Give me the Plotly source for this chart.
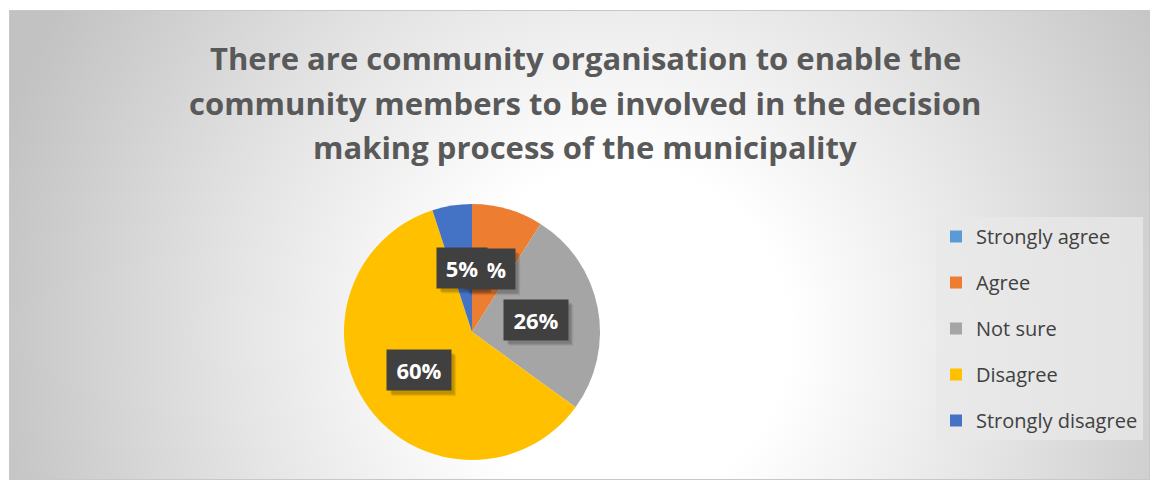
import base64
import math
import plotly.graph_objects as go

# Survey responses (percent of respondents)
categories = ["Strongly agree", "Agree", "Not sure", "Disagree", "Strongly disagree"]
percentages = [0, 9, 26, 60, 5]
colors = ["#5B9BD5", "#ED7D31", "#A5A5A5", "#FFC000", "#4472C4"]

title_lines = [
    "There are community organisation to enable the",
    "community members to be involved in the decision",
    "making process of the municipality",
]

W, H = 1154, 483

# chart frame (pixels) and pie geometry (pixels)
frame_x0, frame_y0, frame_x1, frame_y1 = 9, 10, 1150, 480
pie_cx, pie_cy, pie_r = 472, 332, 128

# radial-gradient backdrop as an inline SVG
fw, fh = frame_x1 - frame_x0, frame_y1 - frame_y0
svg = f"""<svg xmlns='http://www.w3.org/2000/svg' width='{fw}' height='{fh}' viewBox='0 0 {fw} {fh}'>
<defs><radialGradient id='g' gradientUnits='userSpaceOnUse' cx='{620 - frame_x0}' cy='{335 - frame_y0}' r='650'>
<stop offset='0' stop-color='#ffffff'/><stop offset='0.26' stop-color='#ffffff'/>
<stop offset='0.6' stop-color='#e4e4e4'/><stop offset='1' stop-color='#c2c2c2'/>
</radialGradient></defs>
<rect x='0' y='0' width='{fw}' height='{fh}' fill='url(#g)'/>
<rect x='0.5' y='0.5' width='{fw - 1}' height='{fh - 1}' fill='none' stroke='#c8c8c8' stroke-width='1'/>
</svg>"""
bg_src = "data:image/svg+xml;base64," + base64.b64encode(svg.encode()).decode()


def px(x):
    return x / W


def py(y):
    return 1 - y / H


fig = go.Figure()

fig.add_trace(go.Pie(
    labels=categories,
    values=percentages,
    marker=dict(colors=colors, line=dict(width=0)),
    sort=False,
    direction="clockwise",
    rotation=0,
    textinfo="none",
    hoverinfo="label+percent",
    showlegend=False,
    domain=dict(x=[px(pie_cx - pie_r), px(pie_cx + pie_r)],
                y=[py(pie_cy + pie_r), py(pie_cy - pie_r)]),
))

# legend entries as separate groups so their spacing can be set
for name, col in zip(categories, colors):
    fig.add_trace(go.Scatter(
        x=[None], y=[None], mode="markers", name=name, legendgroup=name,
        marker=dict(symbol="square", size=14, color=col),
    ))

# data labels in dark boxes, placed at the middle of each slice
label_size = 22
annotations = []
shapes = []
total = sum(percentages)
cum = 0.0
label_r = 0.51 * pie_r
order = []
for cat, val in zip(categories, percentages):
    mid = (cum + val / 2) / total * 2 * math.pi
    cum += val
    if val <= 0:
        continue
    lx = pie_cx + label_r * math.sin(mid)
    ly = pie_cy - label_r * math.cos(mid)
    order.append((cat, val, lx, ly))

# small slices drawn last so they sit on top
order.sort(key=lambda t: (t[1] < 8, t[0] == "Strongly disagree"))
for cat, val, lx, ly in order:
    txt = f"{val}%"
    bw = 22 + 14 * len(txt)
    bh = 40
    # soft drop shadow behind each label box
    for k, a in ((5, 0.07), (4, 0.09), (3, 0.10)):
        shapes.append(dict(
            type="rect", xref="paper", yref="paper", layer="above",
            x0=px(lx - bw / 2 + k), x1=px(lx + bw / 2 + k),
            y0=py(ly + bh / 2 + k + 1), y1=py(ly - bh / 2 + k),
            fillcolor=f"rgba(0,0,0,{a})", line=dict(width=0),
        ))
    annotations.append(dict(
        x=px(lx), y=py(ly), xref="paper", yref="paper", showarrow=False,
        xanchor="center", yanchor="middle", width=bw, height=bh,
        text=f"<b>{txt}</b>", font=dict(family="Open Sans", size=label_size, color="white"),
        bgcolor="#404040", borderpad=0,
    ))

# chart title, one line per annotation
title_y = [58, 103, 147]
for line, ty in zip(title_lines, title_y):
    annotations.append(dict(
        x=585 / W, y=py(ty), xref="paper", yref="paper", showarrow=False,
        xanchor="center", yanchor="middle",
        text=f"<b>{line}</b>",
        font=dict(family="Open Sans", size=31, color="#595959"),
    ))

fig.update_layout(
    width=W, height=H,
    margin=dict(l=0, r=0, t=0, b=0),
    paper_bgcolor="white",
    plot_bgcolor="rgba(0,0,0,0)",
    xaxis=dict(visible=False),
    yaxis=dict(visible=False),
    legend=dict(
        x=px(936), y=py(217), xanchor="left", yanchor="top",
        bgcolor="rgba(232,232,232,0.75)",
        font=dict(family="Open Sans", size=20, color="#404040"),
        tracegroupgap=17, itemsizing="constant", itemwidth=30,
    ),
    images=[dict(
        source=bg_src, xref="paper", yref="paper",
        x=px(frame_x0), y=py(frame_y0), sizex=fw / W, sizey=fh / H,
        xanchor="left", yanchor="top", sizing="stretch", layer="below",
    )],
    shapes=shapes,
    annotations=annotations,
)

fig.write_html("out.html")
